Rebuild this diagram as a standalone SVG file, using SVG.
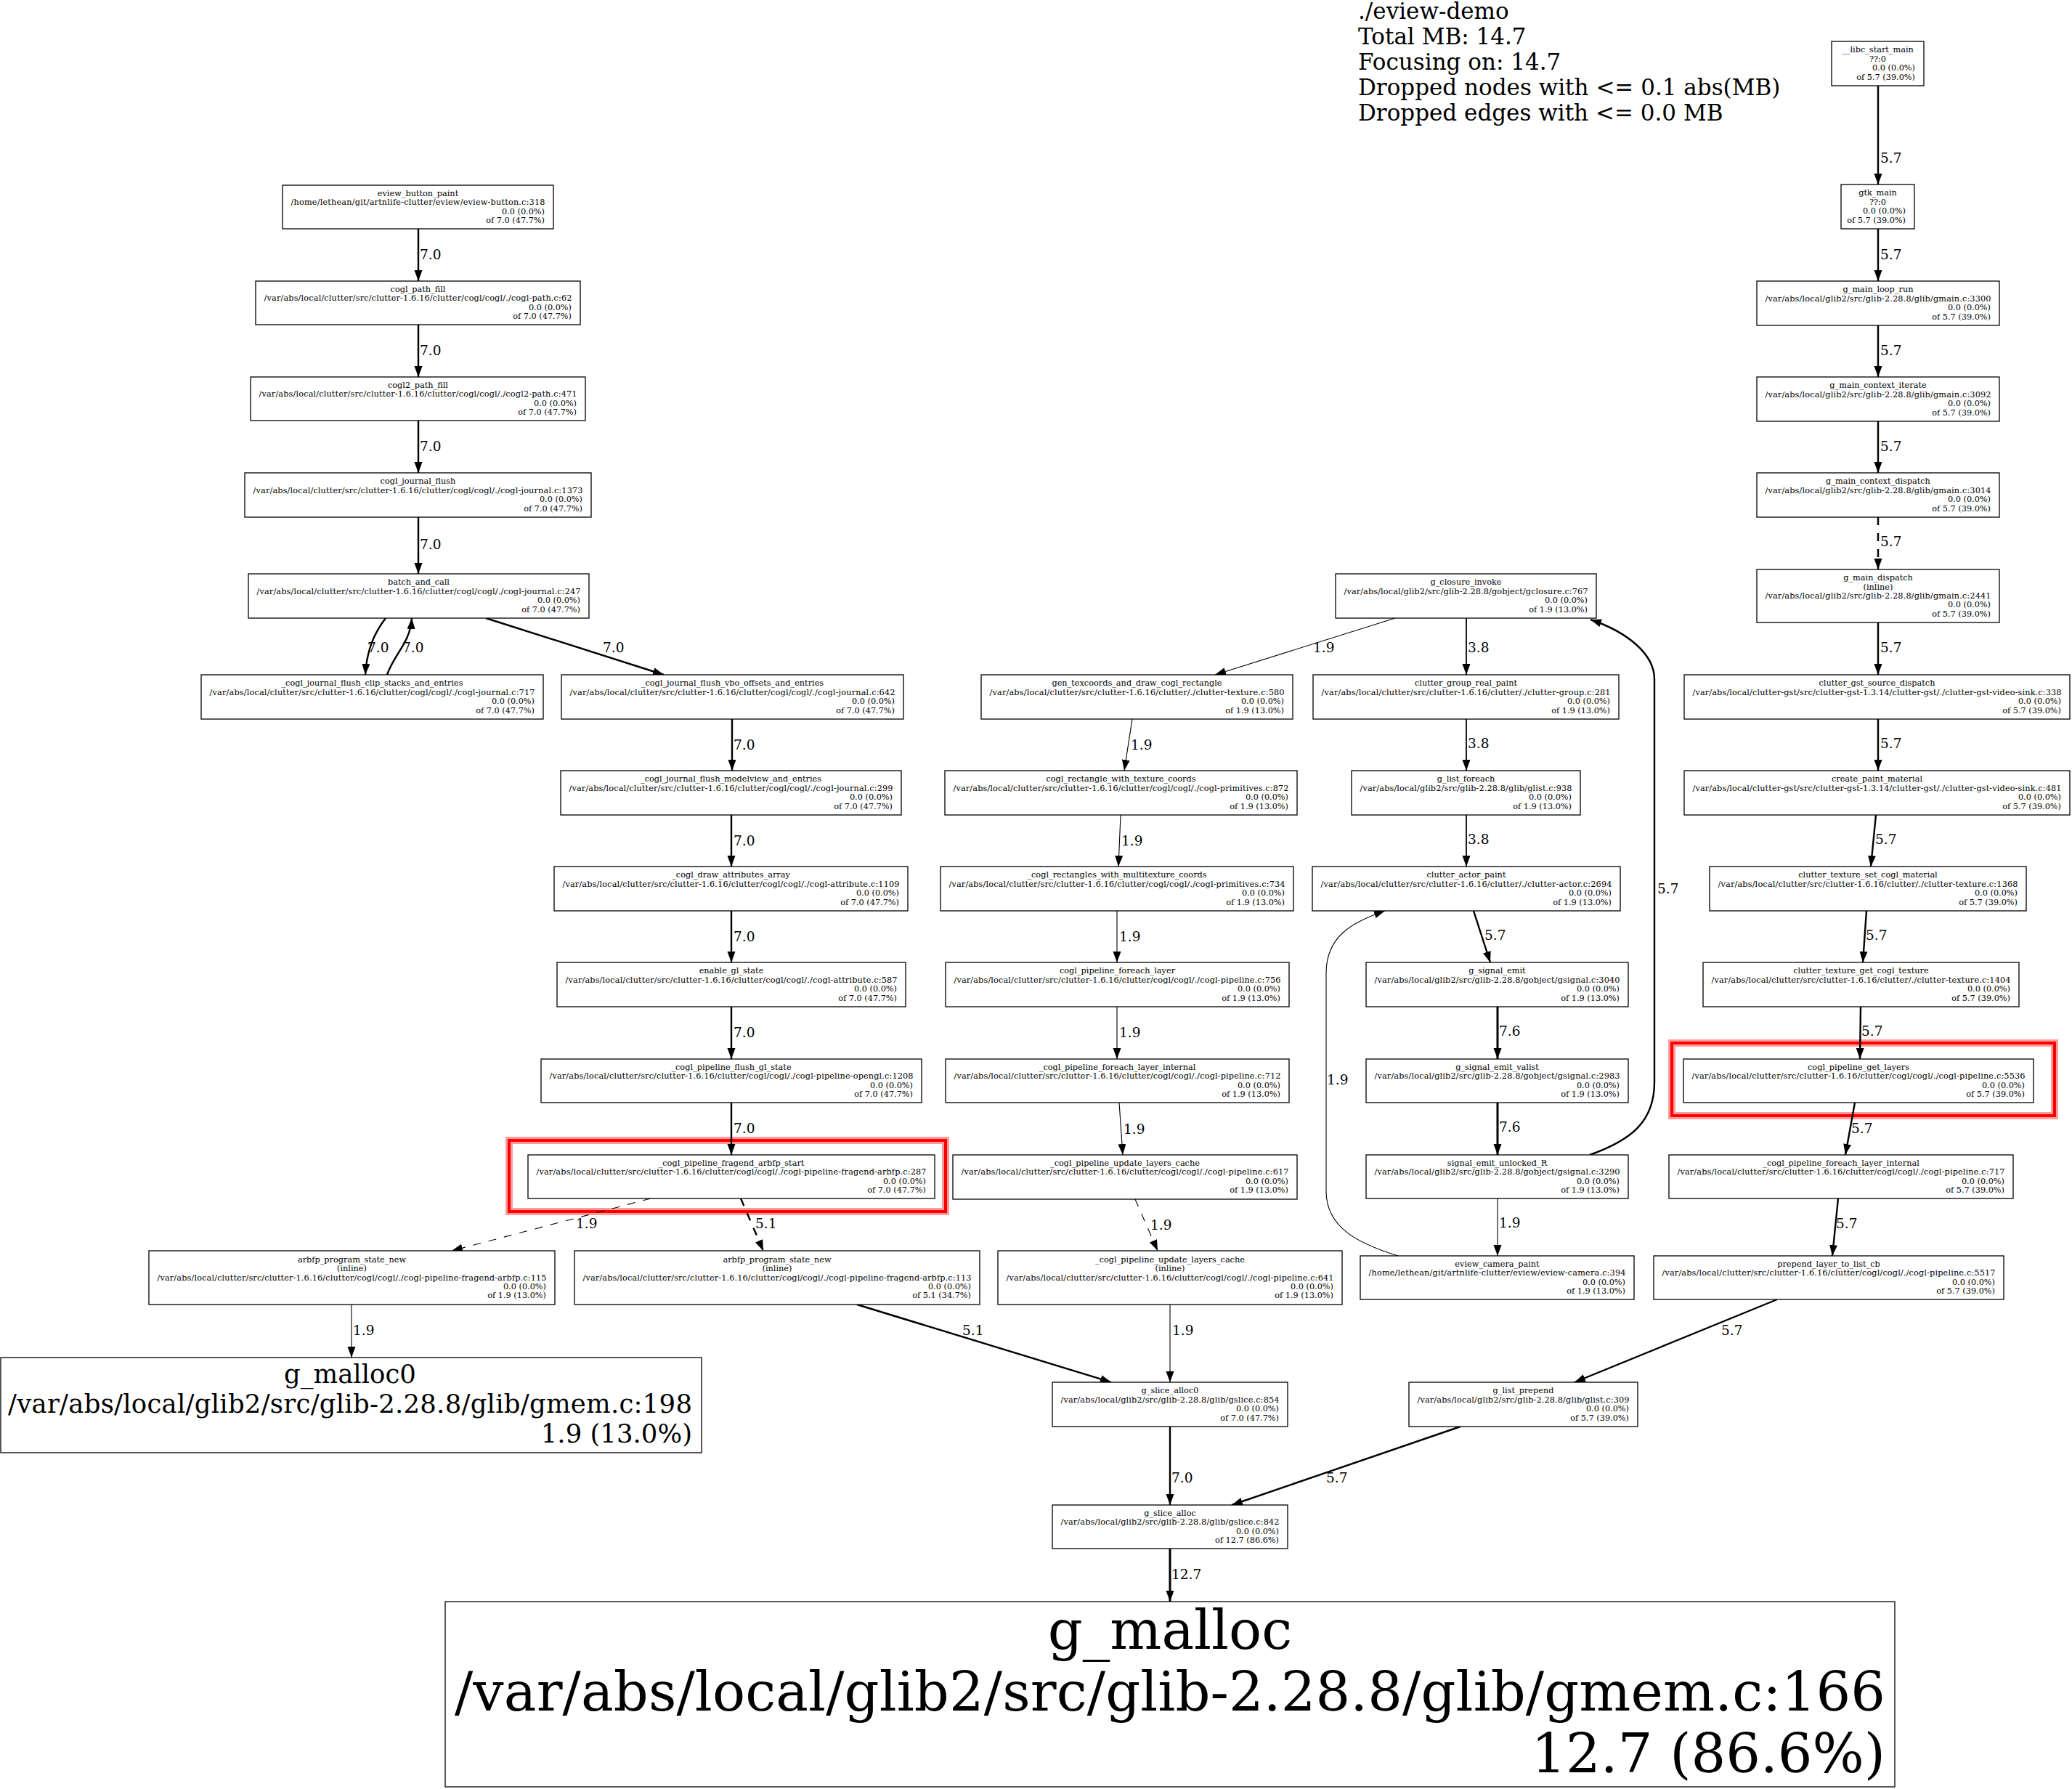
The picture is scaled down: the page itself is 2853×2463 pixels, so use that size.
<svg xmlns="http://www.w3.org/2000/svg" width="2853" height="2463" viewBox="0 0 2853 2463">
<style>
.box{fill:#fff;stroke:#000;stroke-width:1.3}
.t{font-family:"DejaVu Serif","Liberation Serif",serif;font-size:11.3px;fill:#000}
.c{text-anchor:middle}
.r{text-anchor:end}
.e{fill:none;stroke:#000}
.w1{stroke-width:1.1}
.w2{stroke-width:1.8}
.w3{stroke-width:2.4}
.w4{stroke-width:3}
.d{stroke-dasharray:11 11}
.lbl{font-family:"DejaVu Serif","Liberation Serif",serif;font-size:18.5px;fill:#000}
.leg{font-family:"DejaVu Serif","Liberation Serif",serif;font-size:31px;fill:#000}
.big1{font-family:"DejaVu Serif","Liberation Serif",serif;font-size:35.5px;fill:#000}
.big2{font-family:"DejaVu Serif","Liberation Serif",serif;font-size:75px;fill:#000}
.hlo{fill:none;stroke:#ff9a9a;stroke-width:10}
.hli{fill:none;stroke:#ff0000;stroke-width:4}
</style>
<defs>
<marker id="ah" markerUnits="userSpaceOnUse" markerWidth="16" markerHeight="12" refX="15" refY="5.5" orient="auto">
<polygon points="0,0 15,5.5 0,11" fill="#000"/>
</marker>
</defs>
<rect x="0" y="0" width="2853" height="2463" fill="#fff"/>

<g id="legend">
<text class="leg" x="1870" y="26">./eview-demo</text>
<text class="leg" x="1870" y="61">Total MB: 14.7</text>
<text class="leg" x="1870" y="96">Focusing on: 14.7</text>
<text class="leg" x="1870" y="131">Dropped nodes with &lt;= 0.1 abs(MB)</text>
<text class="leg" x="1870" y="166">Dropped edges with &lt;= 0.0 MB</text>
</g>

<g id="highlights">
<rect class="hlo" x="701" y="1570" width="601" height="98"/>
<rect class="hli" x="701" y="1570" width="601" height="98"/>
<rect class="hlo" x="2302" y="1436" width="527" height="100"/>
<rect class="hli" x="2302" y="1436" width="527" height="100"/>
</g>

<g id="edges">
<!-- right column -->
<path class="e w3" d="M2586,118 L2586,254" marker-end="url(#ah)"/>
<text class="lbl" x="2589" y="224">5.7</text>
<path class="e w3" d="M2586,315 L2586,387" marker-end="url(#ah)"/>
<text class="lbl" x="2589" y="357">5.7</text>
<path class="e w3" d="M2586,448 L2586,519" marker-end="url(#ah)"/>
<text class="lbl" x="2589" y="489">5.7</text>
<path class="e w3" d="M2586,580 L2586,651" marker-end="url(#ah)"/>
<text class="lbl" x="2589" y="621">5.7</text>
<path class="e w3 d" d="M2586,712 L2586,784" marker-end="url(#ah)"/>
<text class="lbl" x="2589" y="752">5.7</text>
<path class="e w3" d="M2586,857 L2586,929" marker-end="url(#ah)"/>
<text class="lbl" x="2589" y="898">5.7</text>
<path class="e w3" d="M2586,990 L2586,1061" marker-end="url(#ah)"/>
<text class="lbl" x="2589" y="1030">5.7</text>
<path class="e w3" d="M2583,1122 L2576,1193" marker-end="url(#ah)"/>
<text class="lbl" x="2582" y="1162">5.7</text>
<path class="e w3" d="M2570,1254 L2565,1325" marker-end="url(#ah)"/>
<text class="lbl" x="2569" y="1294">5.7</text>
<path class="e w3" d="M2562,1386 L2561,1458" marker-end="url(#ah)"/>
<text class="lbl" x="2563" y="1426">5.7</text>
<path class="e w3" d="M2554,1518 L2541,1590" marker-end="url(#ah)"/>
<text class="lbl" x="2549" y="1560">5.7</text>
<path class="e w3" d="M2531,1650 L2523,1729" marker-end="url(#ah)"/>
<text class="lbl" x="2528" y="1691">5.7</text>
<path class="e w3" d="M2447,1789 L2168,1903" marker-end="url(#ah)"/>
<text class="lbl" x="2370" y="1838">5.7</text>
<path class="e w3" d="M2011,1964 L1696,2072" marker-end="url(#ah)"/>
<text class="lbl" x="1826" y="2041">5.7</text>

<!-- middle -->
<path class="e w1" d="M1921,851 L1673,929" marker-end="url(#ah)"/>
<text class="lbl" x="1808" y="898">1.9</text>
<path class="e w2" d="M2019,851 L2019,929" marker-end="url(#ah)"/>
<text class="lbl" x="2021" y="898">3.8</text>
<path class="e w1" d="M1559,990 L1548,1061" marker-end="url(#ah)"/>
<text class="lbl" x="1557" y="1032">1.9</text>
<path class="e w1" d="M1543,1122 L1540,1193" marker-end="url(#ah)"/>
<text class="lbl" x="1544" y="1164">1.9</text>
<path class="e w1" d="M1538,1254 L1538,1325" marker-end="url(#ah)"/>
<text class="lbl" x="1541" y="1296">1.9</text>
<path class="e w1" d="M1538,1386 L1538,1458" marker-end="url(#ah)"/>
<text class="lbl" x="1541" y="1428">1.9</text>
<path class="e w1" d="M1541,1518 L1546,1590" marker-end="url(#ah)"/>
<text class="lbl" x="1547" y="1561">1.9</text>
<path class="e w1 d" d="M1563,1651 L1594,1722" marker-end="url(#ah)"/>
<text class="lbl" x="1584" y="1693">1.9</text>
<path class="e w1" d="M1611,1796 L1611,1903" marker-end="url(#ah)"/>
<text class="lbl" x="1614" y="1838">1.9</text>
<path class="e w3" d="M1180,1796 L1530,1903" marker-end="url(#ah)"/>
<text class="lbl" x="1325" y="1838">5.1</text>
<path class="e w3" d="M1611,1964 L1611,2072" marker-end="url(#ah)"/>
<text class="lbl" x="1613" y="2041">7.0</text>
<path class="e w4" d="M1611,2132 L1611,2205" marker-end="url(#ah)"/>
<text class="lbl" x="1613" y="2174">12.7</text>
<path class="e w2" d="M2019,990 L2019,1061" marker-end="url(#ah)"/>
<text class="lbl" x="2021" y="1030">3.8</text>
<path class="e w2" d="M2019,1122 L2019,1193" marker-end="url(#ah)"/>
<text class="lbl" x="2021" y="1162">3.8</text>
<path class="e w3" d="M2029,1254 L2052,1325" marker-end="url(#ah)"/>
<text class="lbl" x="2044" y="1294">5.7</text>
<path class="e w4" d="M2062,1386 L2062,1458" marker-end="url(#ah)"/>
<text class="lbl" x="2064" y="1426">7.6</text>
<path class="e w4" d="M2062,1518 L2062,1590" marker-end="url(#ah)"/>
<text class="lbl" x="2064" y="1558">7.6</text>
<path class="e w1" d="M2062,1650 L2062,1729" marker-end="url(#ah)"/>
<text class="lbl" x="2064" y="1690">1.9</text>
<path class="e w1" d="M1925,1729 C1870,1712 1826,1690 1826,1640 L1826,1340 C1826,1290 1860,1270 1907,1254" marker-end="url(#ah)"/>
<text class="lbl" x="1827" y="1493">1.9</text>
<path class="e w3" d="M2189,1590 C2245,1570 2278,1545 2278,1490 L2278,935 C2278,900 2240,870 2190,853" marker-end="url(#ah)"/>
<text class="lbl" x="2282" y="1230">5.7</text>

<!-- left -->
<path class="e w3" d="M576,315 L576,387" marker-end="url(#ah)"/>
<text class="lbl" x="578" y="357">7.0</text>
<path class="e w3" d="M576,447 L576,519" marker-end="url(#ah)"/>
<text class="lbl" x="578" y="489">7.0</text>
<path class="e w3" d="M576,579 L576,651" marker-end="url(#ah)"/>
<text class="lbl" x="578" y="621">7.0</text>
<path class="e w3" d="M576,712 L576,790" marker-end="url(#ah)"/>
<text class="lbl" x="578" y="756">7.0</text>
<path class="e w3" d="M531,851 C515,872 505,895 503,929" marker-end="url(#ah)"/>
<text class="lbl" x="506" y="898">7.0</text>
<path class="e w3" d="M533,929 C543,900 565,885 567,851" marker-end="url(#ah)"/>
<text class="lbl" x="554" y="898">7.0</text>
<path class="e w3" d="M669,851 L914,929" marker-end="url(#ah)"/>
<text class="lbl" x="830" y="898">7.0</text>
<path class="e w3" d="M1008,990 L1008,1061" marker-end="url(#ah)"/>
<text class="lbl" x="1010" y="1032">7.0</text>
<path class="e w3" d="M1007,1122 L1007,1193" marker-end="url(#ah)"/>
<text class="lbl" x="1010" y="1164">7.0</text>
<path class="e w3" d="M1007,1254 L1007,1325" marker-end="url(#ah)"/>
<text class="lbl" x="1010" y="1296">7.0</text>
<path class="e w3" d="M1007,1386 L1007,1458" marker-end="url(#ah)"/>
<text class="lbl" x="1010" y="1428">7.0</text>
<path class="e w3" d="M1007,1518 L1007,1590" marker-end="url(#ah)"/>
<text class="lbl" x="1010" y="1560">7.0</text>
<path class="e w1 d" d="M896,1650 L622,1722" marker-end="url(#ah)"/>
<text class="lbl" x="793" y="1691">1.9</text>
<path class="e w3 d" d="M1020,1650 L1051,1722" marker-end="url(#ah)"/>
<text class="lbl" x="1040" y="1691">5.1</text>
<path class="e w1" d="M484,1796 L484,1869" marker-end="url(#ah)"/>
<text class="lbl" x="486" y="1838">1.9</text>
</g>

<!-- LEFT COLUMN NODES -->
<g id="eview_button_paint">
<rect class="box" x="389" y="255" width="373" height="60"/>
<text class="t c" x="575.5" y="269.9">eview_button_paint</text>
<text class="t c" x="575.5" y="282.3" textLength="350" lengthAdjust="spacing">/home/lethean/git/artnlife-clutter/eview/eview-button.c:318</text>
<text class="t r" x="750" y="294.7">0.0 (0.0%)</text>
<text class="t r" x="750" y="307.1">of 7.0 (47.7%)</text>
</g>
<g id="cogl_path_fill">
<rect class="box" x="352" y="387" width="447" height="60"/>
<text class="t c" x="575.5" y="401.9">cogl_path_fill</text>
<text class="t c" x="575.5" y="414.3" textLength="424" lengthAdjust="spacing">/var/abs/local/clutter/src/clutter-1.6.16/clutter/cogl/cogl/./cogl-path.c:62</text>
<text class="t r" x="787" y="426.7">0.0 (0.0%)</text>
<text class="t r" x="787" y="439.1">of 7.0 (47.7%)</text>
</g>
<g id="cogl2_path_fill">
<rect class="box" x="345" y="519" width="461" height="60"/>
<text class="t c" x="575.5" y="533.9">cogl2_path_fill</text>
<text class="t c" x="575.5" y="546.3" textLength="438" lengthAdjust="spacing">/var/abs/local/clutter/src/clutter-1.6.16/clutter/cogl/cogl/./cogl2-path.c:471</text>
<text class="t r" x="794" y="558.7">0.0 (0.0%)</text>
<text class="t r" x="794" y="571.1">of 7.0 (47.7%)</text>
</g>
<g id="cogl_journal_flush">
<rect class="box" x="337" y="651" width="477" height="61"/>
<text class="t c" x="575.5" y="666.4">cogl_journal_flush</text>
<text class="t c" x="575.5" y="678.8" textLength="454" lengthAdjust="spacing">/var/abs/local/clutter/src/clutter-1.6.16/clutter/cogl/cogl/./cogl-journal.c:1373</text>
<text class="t r" x="802" y="691.2">0.0 (0.0%)</text>
<text class="t r" x="802" y="703.6">of 7.0 (47.7%)</text>
</g>
<g id="batch_and_call">
<rect class="box" x="342" y="790" width="469" height="61"/>
<text class="t c" x="576.5" y="805.4">batch_and_call</text>
<text class="t c" x="576.5" y="817.8" textLength="446" lengthAdjust="spacing">/var/abs/local/clutter/src/clutter-1.6.16/clutter/cogl/cogl/./cogl-journal.c:247</text>
<text class="t r" x="799" y="830.2">0.0 (0.0%)</text>
<text class="t r" x="799" y="842.6">of 7.0 (47.7%)</text>
</g>
<g id="journal_flush_clip_stacks">
<rect class="box" x="277" y="929" width="471" height="61"/>
<text class="t c" x="512.5" y="944.4">_cogl_journal_flush_clip_stacks_and_entries</text>
<text class="t c" x="512.5" y="956.8" textLength="448" lengthAdjust="spacing">/var/abs/local/clutter/src/clutter-1.6.16/clutter/cogl/cogl/./cogl-journal.c:717</text>
<text class="t r" x="736" y="969.2">0.0 (0.0%)</text>
<text class="t r" x="736" y="981.6">of 7.0 (47.7%)</text>
</g>
<g id="journal_flush_vbo_offsets">
<rect class="box" x="773" y="929" width="471" height="61"/>
<text class="t c" x="1008.5" y="944.4">_cogl_journal_flush_vbo_offsets_and_entries</text>
<text class="t c" x="1008.5" y="956.8" textLength="448" lengthAdjust="spacing">/var/abs/local/clutter/src/clutter-1.6.16/clutter/cogl/cogl/./cogl-journal.c:642</text>
<text class="t r" x="1232" y="969.2">0.0 (0.0%)</text>
<text class="t r" x="1232" y="981.6">of 7.0 (47.7%)</text>
</g>
<g id="journal_flush_modelview">
<rect class="box" x="772" y="1061" width="469" height="61"/>
<text class="t c" x="1006.5" y="1076.4">_cogl_journal_flush_modelview_and_entries</text>
<text class="t c" x="1006.5" y="1088.8" textLength="446" lengthAdjust="spacing">/var/abs/local/clutter/src/clutter-1.6.16/clutter/cogl/cogl/./cogl-journal.c:299</text>
<text class="t r" x="1229" y="1101.2">0.0 (0.0%)</text>
<text class="t r" x="1229" y="1113.6">of 7.0 (47.7%)</text>
</g>
<g id="draw_attributes_array">
<rect class="box" x="763" y="1193" width="487" height="61"/>
<text class="t c" x="1006.5" y="1208.4">_cogl_draw_attributes_array</text>
<text class="t c" x="1006.5" y="1220.8" textLength="464" lengthAdjust="spacing">/var/abs/local/clutter/src/clutter-1.6.16/clutter/cogl/cogl/./cogl-attribute.c:1109</text>
<text class="t r" x="1238" y="1233.2">0.0 (0.0%)</text>
<text class="t r" x="1238" y="1245.6">of 7.0 (47.7%)</text>
</g>
<g id="enable_gl_state">
<rect class="box" x="767" y="1325" width="480" height="61"/>
<text class="t c" x="1007" y="1340.4">enable_gl_state</text>
<text class="t c" x="1007" y="1352.8" textLength="457" lengthAdjust="spacing">/var/abs/local/clutter/src/clutter-1.6.16/clutter/cogl/cogl/./cogl-attribute.c:587</text>
<text class="t r" x="1235" y="1365.2">0.0 (0.0%)</text>
<text class="t r" x="1235" y="1377.6">of 7.0 (47.7%)</text>
</g>
<g id="pipeline_flush_gl_state">
<rect class="box" x="745" y="1458" width="524" height="60"/>
<text class="t c" x="1007" y="1472.9">_cogl_pipeline_flush_gl_state</text>
<text class="t c" x="1007" y="1485.3" textLength="501" lengthAdjust="spacing">/var/abs/local/clutter/src/clutter-1.6.16/clutter/cogl/cogl/./cogl-pipeline-opengl.c:1208</text>
<text class="t r" x="1257" y="1497.7">0.0 (0.0%)</text>
<text class="t r" x="1257" y="1510.1">of 7.0 (47.7%)</text>
</g>
<g id="fragend_arbfp_start">
<rect class="box" x="727" y="1590" width="560" height="60"/>
<text class="t c" x="1007" y="1604.9">_cogl_pipeline_fragend_arbfp_start</text>
<text class="t c" x="1007" y="1617.3" textLength="537" lengthAdjust="spacing">/var/abs/local/clutter/src/clutter-1.6.16/clutter/cogl/cogl/./cogl-pipeline-fragend-arbfp.c:287</text>
<text class="t r" x="1275" y="1629.7">0.0 (0.0%)</text>
<text class="t r" x="1275" y="1642.1">of 7.0 (47.7%)</text>
</g>
<g id="arbfp_program_state_new_115">
<rect class="box" x="205" y="1722" width="559" height="74"/>
<text class="t c" x="484.5" y="1737.7">arbfp_program_state_new</text>
<text class="t c" x="484.5" y="1750.1">(inline)</text>
<text class="t c" x="484.5" y="1762.5" textLength="536" lengthAdjust="spacing">/var/abs/local/clutter/src/clutter-1.6.16/clutter/cogl/cogl/./cogl-pipeline-fragend-arbfp.c:115</text>
<text class="t r" x="752" y="1774.9">0.0 (0.0%)</text>
<text class="t r" x="752" y="1787.3">of 1.9 (13.0%)</text>
</g>
<g id="arbfp_program_state_new_113">
<rect class="box" x="791" y="1722" width="558" height="74"/>
<text class="t c" x="1070" y="1737.7">arbfp_program_state_new</text>
<text class="t c" x="1070" y="1750.1">(inline)</text>
<text class="t c" x="1070" y="1762.5" textLength="535" lengthAdjust="spacing">/var/abs/local/clutter/src/clutter-1.6.16/clutter/cogl/cogl/./cogl-pipeline-fragend-arbfp.c:113</text>
<text class="t r" x="1337" y="1774.9">0.0 (0.0%)</text>
<text class="t r" x="1337" y="1787.3">of 5.1 (34.7%)</text>
</g>
<g id="g_malloc0">
<rect class="box" x="1" y="1869" width="965" height="131"/>
<text class="big1 c" x="482" y="1904">g_malloc0</text>
<text class="big1 c" x="482" y="1945" textLength="942" lengthAdjust="spacing">/var/abs/local/glib2/src/glib-2.28.8/glib/gmem.c:198</text>
<text class="big1 r" x="953" y="1986">1.9 (13.0%)</text>
</g>

<!-- MIDDLE NODES -->
<g id="g_closure_invoke">
<rect class="box" x="1839" y="790" width="359" height="61"/>
<text class="t c" x="2018.5" y="805.4">g_closure_invoke</text>
<text class="t c" x="2018.5" y="817.8" textLength="336" lengthAdjust="spacing">/var/abs/local/glib2/src/glib-2.28.8/gobject/gclosure.c:767</text>
<text class="t r" x="2186" y="830.2">0.0 (0.0%)</text>
<text class="t r" x="2186" y="842.6">of 1.9 (13.0%)</text>
</g>
<g id="gen_texcoords">
<rect class="box" x="1351" y="929" width="429" height="61"/>
<text class="t c" x="1565.5" y="944.4">gen_texcoords_and_draw_cogl_rectangle</text>
<text class="t c" x="1565.5" y="956.8" textLength="406" lengthAdjust="spacing">/var/abs/local/clutter/src/clutter-1.6.16/clutter/./clutter-texture.c:580</text>
<text class="t r" x="1768" y="969.2">0.0 (0.0%)</text>
<text class="t r" x="1768" y="981.6">of 1.9 (13.0%)</text>
</g>
<g id="clutter_group_real_paint">
<rect class="box" x="1808" y="929" width="421" height="61"/>
<text class="t c" x="2018.5" y="944.4">clutter_group_real_paint</text>
<text class="t c" x="2018.5" y="956.8" textLength="398" lengthAdjust="spacing">/var/abs/local/clutter/src/clutter-1.6.16/clutter/./clutter-group.c:281</text>
<text class="t r" x="2217" y="969.2">0.0 (0.0%)</text>
<text class="t r" x="2217" y="981.6">of 1.9 (13.0%)</text>
</g>
<g id="cogl_rectangle_with_texture_coords">
<rect class="box" x="1301" y="1061" width="485" height="61"/>
<text class="t c" x="1543.5" y="1076.4">cogl_rectangle_with_texture_coords</text>
<text class="t c" x="1543.5" y="1088.8" textLength="462" lengthAdjust="spacing">/var/abs/local/clutter/src/clutter-1.6.16/clutter/cogl/cogl/./cogl-primitives.c:872</text>
<text class="t r" x="1774" y="1101.2">0.0 (0.0%)</text>
<text class="t r" x="1774" y="1113.6">of 1.9 (13.0%)</text>
</g>
<g id="g_list_foreach">
<rect class="box" x="1861" y="1061" width="315" height="61"/>
<text class="t c" x="2018.5" y="1076.4">g_list_foreach</text>
<text class="t c" x="2018.5" y="1088.8" textLength="292" lengthAdjust="spacing">/var/abs/local/glib2/src/glib-2.28.8/glib/glist.c:938</text>
<text class="t r" x="2164" y="1101.2">0.0 (0.0%)</text>
<text class="t r" x="2164" y="1113.6">of 1.9 (13.0%)</text>
</g>
<g id="rectangles_with_multitexture_coords">
<rect class="box" x="1295" y="1193" width="486" height="61"/>
<text class="t c" x="1538" y="1208.4">_cogl_rectangles_with_multitexture_coords</text>
<text class="t c" x="1538" y="1220.8" textLength="463" lengthAdjust="spacing">/var/abs/local/clutter/src/clutter-1.6.16/clutter/cogl/cogl/./cogl-primitives.c:734</text>
<text class="t r" x="1769" y="1233.2">0.0 (0.0%)</text>
<text class="t r" x="1769" y="1245.6">of 1.9 (13.0%)</text>
</g>
<g id="clutter_actor_paint">
<rect class="box" x="1807" y="1193" width="424" height="61"/>
<text class="t c" x="2019" y="1208.4">clutter_actor_paint</text>
<text class="t c" x="2019" y="1220.8" textLength="401" lengthAdjust="spacing">/var/abs/local/clutter/src/clutter-1.6.16/clutter/./clutter-actor.c:2694</text>
<text class="t r" x="2219" y="1233.2">0.0 (0.0%)</text>
<text class="t r" x="2219" y="1245.6">of 1.9 (13.0%)</text>
</g>
<g id="cogl_pipeline_foreach_layer">
<rect class="box" x="1302" y="1325" width="473" height="61"/>
<text class="t c" x="1538.5" y="1340.4">cogl_pipeline_foreach_layer</text>
<text class="t c" x="1538.5" y="1352.8" textLength="450" lengthAdjust="spacing">/var/abs/local/clutter/src/clutter-1.6.16/clutter/cogl/cogl/./cogl-pipeline.c:756</text>
<text class="t r" x="1763" y="1365.2">0.0 (0.0%)</text>
<text class="t r" x="1763" y="1377.6">of 1.9 (13.0%)</text>
</g>
<g id="g_signal_emit">
<rect class="box" x="1881" y="1325" width="361" height="61"/>
<text class="t c" x="2061.5" y="1340.4">g_signal_emit</text>
<text class="t c" x="2061.5" y="1352.8" textLength="338" lengthAdjust="spacing">/var/abs/local/glib2/src/glib-2.28.8/gobject/gsignal.c:3040</text>
<text class="t r" x="2230" y="1365.2">0.0 (0.0%)</text>
<text class="t r" x="2230" y="1377.6">of 1.9 (13.0%)</text>
</g>
<g id="pipeline_foreach_layer_internal_712">
<rect class="box" x="1302" y="1458" width="473" height="60"/>
<text class="t c" x="1538.5" y="1472.9">_cogl_pipeline_foreach_layer_internal</text>
<text class="t c" x="1538.5" y="1485.3" textLength="450" lengthAdjust="spacing">/var/abs/local/clutter/src/clutter-1.6.16/clutter/cogl/cogl/./cogl-pipeline.c:712</text>
<text class="t r" x="1763" y="1497.7">0.0 (0.0%)</text>
<text class="t r" x="1763" y="1510.1">of 1.9 (13.0%)</text>
</g>
<g id="g_signal_emit_valist">
<rect class="box" x="1881" y="1458" width="361" height="60"/>
<text class="t c" x="2061.5" y="1472.9">g_signal_emit_valist</text>
<text class="t c" x="2061.5" y="1485.3" textLength="338" lengthAdjust="spacing">/var/abs/local/glib2/src/glib-2.28.8/gobject/gsignal.c:2983</text>
<text class="t r" x="2230" y="1497.7">0.0 (0.0%)</text>
<text class="t r" x="2230" y="1510.1">of 1.9 (13.0%)</text>
</g>
<g id="pipeline_update_layers_cache_617">
<rect class="box" x="1312" y="1590" width="474" height="61"/>
<text class="t c" x="1549" y="1604.9">_cogl_pipeline_update_layers_cache</text>
<text class="t c" x="1549" y="1617.3" textLength="451" lengthAdjust="spacing">/var/abs/local/clutter/src/clutter-1.6.16/clutter/cogl/cogl/./cogl-pipeline.c:617</text>
<text class="t r" x="1774" y="1629.7">0.0 (0.0%)</text>
<text class="t r" x="1774" y="1642.1">of 1.9 (13.0%)</text>
</g>
<g id="signal_emit_unlocked_R">
<rect class="box" x="1881" y="1590" width="361" height="60"/>
<text class="t c" x="2061.5" y="1604.9">signal_emit_unlocked_R</text>
<text class="t c" x="2061.5" y="1617.3" textLength="338" lengthAdjust="spacing">/var/abs/local/glib2/src/glib-2.28.8/gobject/gsignal.c:3290</text>
<text class="t r" x="2230" y="1629.7">0.0 (0.0%)</text>
<text class="t r" x="2230" y="1642.1">of 1.9 (13.0%)</text>
</g>
<g id="pipeline_update_layers_cache_641">
<rect class="box" x="1374" y="1722" width="474" height="74"/>
<text class="t c" x="1611" y="1737.7">_cogl_pipeline_update_layers_cache</text>
<text class="t c" x="1611" y="1750.1">(inline)</text>
<text class="t c" x="1611" y="1762.5" textLength="451" lengthAdjust="spacing">/var/abs/local/clutter/src/clutter-1.6.16/clutter/cogl/cogl/./cogl-pipeline.c:641</text>
<text class="t r" x="1836" y="1774.9">0.0 (0.0%)</text>
<text class="t r" x="1836" y="1787.3">of 1.9 (13.0%)</text>
</g>
<g id="eview_camera_paint">
<rect class="box" x="1873" y="1729" width="377" height="60"/>
<text class="t c" x="2061.5" y="1743.9">eview_camera_paint</text>
<text class="t c" x="2061.5" y="1756.3" textLength="354" lengthAdjust="spacing">/home/lethean/git/artnlife-clutter/eview/eview-camera.c:394</text>
<text class="t r" x="2238" y="1768.7">0.0 (0.0%)</text>
<text class="t r" x="2238" y="1781.1">of 1.9 (13.0%)</text>
</g>
<g id="g_slice_alloc0">
<rect class="box" x="1449" y="1903" width="324" height="61"/>
<text class="t c" x="1611" y="1918.4">g_slice_alloc0</text>
<text class="t c" x="1611" y="1930.8" textLength="301" lengthAdjust="spacing">/var/abs/local/glib2/src/glib-2.28.8/glib/gslice.c:854</text>
<text class="t r" x="1761" y="1943.2">0.0 (0.0%)</text>
<text class="t r" x="1761" y="1955.6">of 7.0 (47.7%)</text>
</g>
<g id="g_slice_alloc">
<rect class="box" x="1449" y="2072" width="324" height="60"/>
<text class="t c" x="1611" y="2086.9">g_slice_alloc</text>
<text class="t c" x="1611" y="2099.3" textLength="301" lengthAdjust="spacing">/var/abs/local/glib2/src/glib-2.28.8/glib/gslice.c:842</text>
<text class="t r" x="1761" y="2111.7">0.0 (0.0%)</text>
<text class="t r" x="1761" y="2124.1">of 12.7 (86.6%)</text>
</g>
<g id="g_malloc">
<rect class="box" x="613" y="2205" width="1996" height="255"/>
<text class="big2 c" x="1611" y="2270">g_malloc</text>
<text class="big2 c" x="1611" y="2355" textLength="1970" lengthAdjust="spacing">/var/abs/local/glib2/src/glib-2.28.8/glib/gmem.c:166</text>
<text class="big2 r" x="2596" y="2440">12.7 (86.6%)</text>
</g>

<!-- RIGHT COLUMN NODES -->
<g id="libc_start_main">
<rect class="box" x="2522" y="57" width="127" height="61"/>
<text class="t c" x="2585.5" y="72.4">__libc_start_main</text>
<text class="t c" x="2585.5" y="84.8">??:0</text>
<text class="t r" x="2637" y="97.2">0.0 (0.0%)</text>
<text class="t r" x="2637" y="109.6">of 5.7 (39.0%)</text>
</g>
<g id="gtk_main">
<rect class="box" x="2535" y="254" width="101" height="61"/>
<text class="t c" x="2585.5" y="269.4">gtk_main</text>
<text class="t c" x="2585.5" y="281.8">??:0</text>
<text class="t r" x="2624" y="294.2">0.0 (0.0%)</text>
<text class="t r" x="2624" y="306.6">of 5.7 (39.0%)</text>
</g>
<g id="g_main_loop_run">
<rect class="box" x="2419" y="387" width="334" height="61"/>
<text class="t c" x="2586" y="402.4">g_main_loop_run</text>
<text class="t c" x="2586" y="414.8" textLength="311" lengthAdjust="spacing">/var/abs/local/glib2/src/glib-2.28.8/glib/gmain.c:3300</text>
<text class="t r" x="2741" y="427.2">0.0 (0.0%)</text>
<text class="t r" x="2741" y="439.6">of 5.7 (39.0%)</text>
</g>
<g id="g_main_context_iterate">
<rect class="box" x="2419" y="519" width="334" height="61"/>
<text class="t c" x="2586" y="534.4">g_main_context_iterate</text>
<text class="t c" x="2586" y="546.8" textLength="311" lengthAdjust="spacing">/var/abs/local/glib2/src/glib-2.28.8/glib/gmain.c:3092</text>
<text class="t r" x="2741" y="559.2">0.0 (0.0%)</text>
<text class="t r" x="2741" y="571.6">of 5.7 (39.0%)</text>
</g>
<g id="g_main_context_dispatch">
<rect class="box" x="2419" y="651" width="334" height="61"/>
<text class="t c" x="2586" y="666.4">g_main_context_dispatch</text>
<text class="t c" x="2586" y="678.8" textLength="311" lengthAdjust="spacing">/var/abs/local/glib2/src/glib-2.28.8/glib/gmain.c:3014</text>
<text class="t r" x="2741" y="691.2">0.0 (0.0%)</text>
<text class="t r" x="2741" y="703.6">of 5.7 (39.0%)</text>
</g>
<g id="g_main_dispatch">
<rect class="box" x="2419" y="784" width="334" height="73"/>
<text class="t c" x="2586" y="799.2">g_main_dispatch</text>
<text class="t c" x="2586" y="811.6">(inline)</text>
<text class="t c" x="2586" y="824" textLength="311" lengthAdjust="spacing">/var/abs/local/glib2/src/glib-2.28.8/glib/gmain.c:2441</text>
<text class="t r" x="2741" y="836.4">0.0 (0.0%)</text>
<text class="t r" x="2741" y="848.8">of 5.7 (39.0%)</text>
</g>
<g id="clutter_gst_source_dispatch">
<rect class="box" x="2319" y="929" width="531" height="61"/>
<text class="t c" x="2584.5" y="944.4">clutter_gst_source_dispatch</text>
<text class="t c" x="2584.5" y="956.8" textLength="508" lengthAdjust="spacing">/var/abs/local/clutter-gst/src/clutter-gst-1.3.14/clutter-gst/./clutter-gst-video-sink.c:338</text>
<text class="t r" x="2838" y="969.2">0.0 (0.0%)</text>
<text class="t r" x="2838" y="981.6">of 5.7 (39.0%)</text>
</g>
<g id="create_paint_material">
<rect class="box" x="2319" y="1061" width="531" height="61"/>
<text class="t c" x="2584.5" y="1076.4">create_paint_material</text>
<text class="t c" x="2584.5" y="1088.8" textLength="508" lengthAdjust="spacing">/var/abs/local/clutter-gst/src/clutter-gst-1.3.14/clutter-gst/./clutter-gst-video-sink.c:481</text>
<text class="t r" x="2838" y="1101.2">0.0 (0.0%)</text>
<text class="t r" x="2838" y="1113.6">of 5.7 (39.0%)</text>
</g>
<g id="clutter_texture_set_cogl_material">
<rect class="box" x="2354" y="1193" width="436" height="61"/>
<text class="t c" x="2572" y="1208.4">clutter_texture_set_cogl_material</text>
<text class="t c" x="2572" y="1220.8" textLength="413" lengthAdjust="spacing">/var/abs/local/clutter/src/clutter-1.6.16/clutter/./clutter-texture.c:1368</text>
<text class="t r" x="2778" y="1233.2">0.0 (0.0%)</text>
<text class="t r" x="2778" y="1245.6">of 5.7 (39.0%)</text>
</g>
<g id="clutter_texture_get_cogl_texture">
<rect class="box" x="2345" y="1325" width="435" height="61"/>
<text class="t c" x="2562.5" y="1340.4">clutter_texture_get_cogl_texture</text>
<text class="t c" x="2562.5" y="1352.8" textLength="412" lengthAdjust="spacing">/var/abs/local/clutter/src/clutter-1.6.16/clutter/./clutter-texture.c:1404</text>
<text class="t r" x="2768" y="1365.2">0.0 (0.0%)</text>
<text class="t r" x="2768" y="1377.6">of 5.7 (39.0%)</text>
</g>
<g id="cogl_pipeline_get_layers">
<rect class="box" x="2318" y="1458" width="482" height="60"/>
<text class="t c" x="2559" y="1472.9">cogl_pipeline_get_layers</text>
<text class="t c" x="2559" y="1485.3" textLength="459" lengthAdjust="spacing">/var/abs/local/clutter/src/clutter-1.6.16/clutter/cogl/cogl/./cogl-pipeline.c:5536</text>
<text class="t r" x="2788" y="1497.7">0.0 (0.0%)</text>
<text class="t r" x="2788" y="1510.1">of 5.7 (39.0%)</text>
</g>
<g id="pipeline_foreach_layer_internal_717">
<rect class="box" x="2298" y="1590" width="474" height="60"/>
<text class="t c" x="2535" y="1604.9">_cogl_pipeline_foreach_layer_internal</text>
<text class="t c" x="2535" y="1617.3" textLength="451" lengthAdjust="spacing">/var/abs/local/clutter/src/clutter-1.6.16/clutter/cogl/cogl/./cogl-pipeline.c:717</text>
<text class="t r" x="2760" y="1629.7">0.0 (0.0%)</text>
<text class="t r" x="2760" y="1642.1">of 5.7 (39.0%)</text>
</g>
<g id="prepend_layer_to_list_cb">
<rect class="box" x="2277" y="1729" width="482" height="60"/>
<text class="t c" x="2518" y="1743.9">prepend_layer_to_list_cb</text>
<text class="t c" x="2518" y="1756.3" textLength="459" lengthAdjust="spacing">/var/abs/local/clutter/src/clutter-1.6.16/clutter/cogl/cogl/./cogl-pipeline.c:5517</text>
<text class="t r" x="2747" y="1768.7">0.0 (0.0%)</text>
<text class="t r" x="2747" y="1781.1">of 5.7 (39.0%)</text>
</g>
<g id="g_list_prepend">
<rect class="box" x="1940" y="1903" width="315" height="61"/>
<text class="t c" x="2097.5" y="1918.4">g_list_prepend</text>
<text class="t c" x="2097.5" y="1930.8" textLength="292" lengthAdjust="spacing">/var/abs/local/glib2/src/glib-2.28.8/glib/glist.c:309</text>
<text class="t r" x="2243" y="1943.2">0.0 (0.0%)</text>
<text class="t r" x="2243" y="1955.6">of 5.7 (39.0%)</text>
</g>
</svg>
